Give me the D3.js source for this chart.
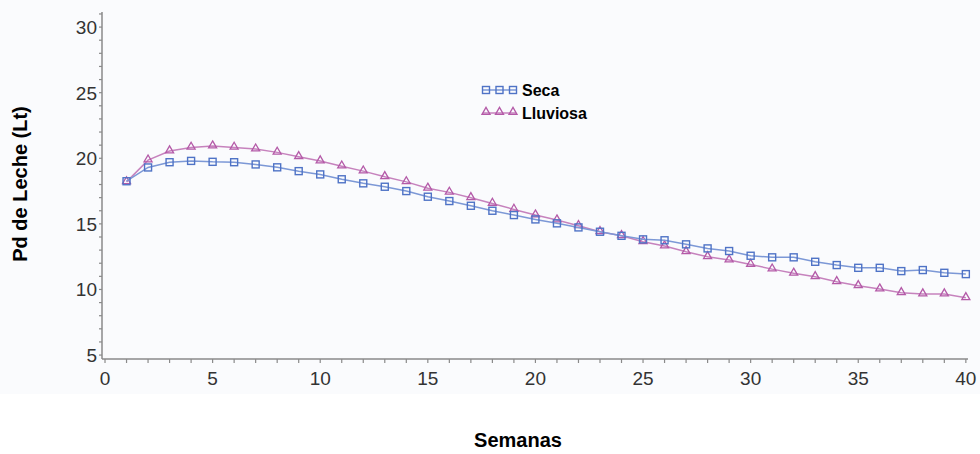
<!DOCTYPE html>
<html>
<head>
<meta charset="utf-8">
<script src="https://cdn.jsdelivr.net/npm/d3@7"></script>
<style>
  body { margin: 0; background: #ffffff; }
  svg { display: block; font-family: Arial, "Liberation Sans", sans-serif; }
</style>
</head>
<body>
<div id="chart"></div>
<script>
// weeks and milk yield per season
var semanas = d3.range(1, 41);
var seca = [18.25, 19.3, 19.7, 19.8, 19.73, 19.7, 19.53, 19.31, 19.02, 18.77,
            18.4, 18.09, 17.83, 17.5, 17.07, 16.74, 16.38, 16.0, 15.67, 15.34,
            15.04, 14.73, 14.4, 14.09, 13.82, 13.75, 13.44, 13.13, 12.93, 12.57,
            12.45, 12.45, 12.11, 11.86, 11.65, 11.65, 11.4, 11.48, 11.27, 11.17];
var lluviosa = [18.2, 19.86, 20.55, 20.83, 20.93, 20.83, 20.7, 20.45, 20.12, 19.79,
                19.4, 19.02, 18.59, 18.2, 17.71, 17.4, 16.99, 16.56, 16.1, 15.67,
                15.29, 14.86, 14.4, 14.09, 13.64, 13.31, 12.87, 12.49, 12.24, 11.91,
                11.55, 11.23, 10.97, 10.59, 10.28, 10.03, 9.75, 9.65, 9.65, 9.37];
var xTicks = [0, 5, 10, 15, 20, 25, 30, 35, 40];
var yTicks = [5, 10, 15, 20, 25, 30];
var seriesNames = ["Seca", "Lluviosa"];

var width = 980, height = 454;
var blue = "#4f73c6", blueLine = "#7c98d6";
var purple = "#b45aa8", purpleLine = "#c682bd";

var svg = d3.select("#chart").append("svg")
    .attr("width", width)
    .attr("height", height);

// faint plot background
svg.append("rect")
    .attr("x", 0).attr("y", 0)
    .attr("width", width).attr("height", 394)
    .attr("fill", "#fafbfd");

var x = d3.scaleLinear().domain([-0.14, 40.1]).range([102, 968]);
var y = d3.scaleLinear().domain([4.7, 31.15]).range([359, 12]);

// y axis
var yAxis = svg.append("g").attr("transform", "translate(102,0)");
yAxis.append("line")
    .attr("y1", y(31.15)).attr("y2", y(4.7))
    .attr("stroke", "#8a8a8a").attr("stroke-width", 1.5);
yAxis.selectAll("line.minor")
    .data(d3.range(5, 32))
    .enter().append("line")
    .attr("class", "minor")
    .attr("x1", -3).attr("x2", 0)
    .attr("y1", d => y(d)).attr("y2", d => y(d))
    .attr("stroke", "#8a8a8a").attr("stroke-width", 1.2);
yAxis.selectAll("text")
    .data(yTicks)
    .enter().append("text")
    .attr("x", -5)
    .attr("y", d => y(d))
    .attr("dy", "0.36em")
    .attr("text-anchor", "end")
    .attr("fill", "#333")
    .style("font-size", "19px")
    .text(d => d);

// x axis
var xAxis = svg.append("g").attr("transform", "translate(0,359)");
xAxis.append("line")
    .attr("x1", x(-0.14)).attr("x2", x(40.1))
    .attr("stroke", "#8a8a8a").attr("stroke-width", 1.5);
xAxis.selectAll("line.minor")
    .data(d3.range(0, 41))
    .enter().append("line")
    .attr("class", "minor")
    .attr("x1", d => x(d)).attr("x2", d => x(d))
    .attr("y1", 0).attr("y2", 4)
    .attr("stroke", "#8a8a8a").attr("stroke-width", 1.2);
xAxis.selectAll("text")
    .data(xTicks)
    .enter().append("text")
    .attr("x", d => x(d))
    .attr("y", 19)
    .attr("dy", "0.36em")
    .attr("text-anchor", "middle")
    .attr("fill", "#333")
    .style("font-size", "19px")
    .text(d => d);

// axis titles
svg.append("text")
    .attr("transform", "translate(27,184) rotate(-90)")
    .attr("text-anchor", "middle")
    .style("font-size", "20px")
    .style("font-weight", "bold")
    .text("Pd de Leche (Lt)");
svg.append("text")
    .attr("x", 518).attr("y", 447)
    .attr("text-anchor", "middle")
    .style("font-size", "20px")
    .style("font-weight", "bold")
    .text("Semanas");

var line = d3.line()
    .x((d, i) => x(semanas[i]))
    .y(d => y(d));

var tri = d3.symbol().type(d3.symbolTriangle).size(28);

function drawSeries(values, lineColor, markColor, shape) {
    svg.append("path")
        .datum(values)
        .attr("d", line)
        .attr("fill", "none")
        .attr("stroke", lineColor)
        .attr("stroke-width", 1.5);

    if (shape == "square") {
        svg.selectAll(null)
            .data(values)
            .enter().append("rect")
            .attr("x", (d, i) => x(semanas[i]) - 3.5)
            .attr("y", d => y(d) - 3.5)
            .attr("width", 7).attr("height", 7)
            .attr("fill", "none")
            .attr("stroke", markColor)
            .attr("stroke-width", 1.4);
    } else {
        svg.selectAll(null)
            .data(values)
            .enter().append("path")
            .attr("d", tri)
            .attr("transform", (d, i) => "translate(" + x(semanas[i]) + "," + (y(d) - 0.5) + ")")
            .attr("fill", "none")
            .attr("stroke", markColor)
            .attr("stroke-width", 1.3);
    }
}

drawSeries(lluviosa, purpleLine, purple, "triangle");
drawSeries(seca, blueLine, blue, "square");

// legend
var legend = svg.append("g").attr("transform", "translate(483,0)");
var legY = [90, 113];
var legendColors = [[blueLine, blue, "square"], [purpleLine, purple, "triangle"]];
seriesNames.forEach(function (name, k) {
    var g = legend.append("g").attr("transform", "translate(0," + legY[k] + ")");
    g.append("line")
        .attr("x1", 0).attr("x2", 33)
        .attr("stroke", legendColors[k][0]).attr("stroke-width", 1.5);
    [3, 16.5, 30].forEach(function (px) {
        if (legendColors[k][2] == "square") {
            g.append("rect")
                .attr("x", px - 3.5).attr("y", -3.5)
                .attr("width", 7).attr("height", 7)
                .attr("fill", "none")
                .attr("stroke", legendColors[k][1]).attr("stroke-width", 1.4);
        } else {
            g.append("path")
                .attr("d", tri)
                .attr("transform", "translate(" + px + ",-1)")
                .attr("fill", "none")
                .attr("stroke", legendColors[k][1]).attr("stroke-width", 1.3);
        }
    });
    g.append("text")
        .attr("x", 39).attr("y", 0)
        .attr("dy", "0.36em")
        .style("font-size", "16px")
        .style("font-weight", "bold")
        .text(name);
});
</script>
</body>
</html>
